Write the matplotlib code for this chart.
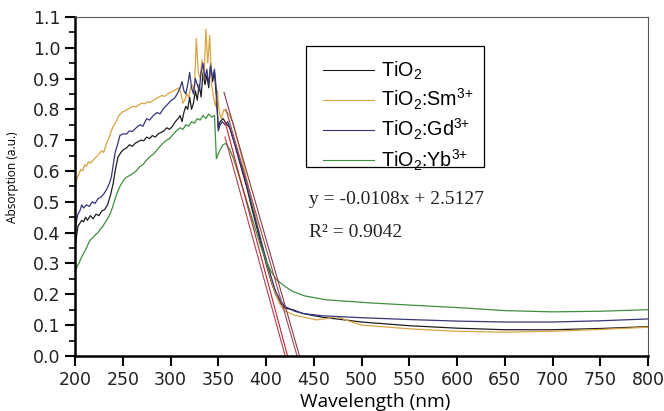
import matplotlib
matplotlib.use("Agg")
import matplotlib.pyplot as plt
from matplotlib.ticker import MultipleLocator
from matplotlib.patches import Rectangle

plt.rcParams["mathtext.fontset"] = "custom"
plt.rcParams["mathtext.rm"] = "Liberation Sans"
plt.rcParams["mathtext.it"] = "Liberation Sans"

# ---- data ----
tio2_x = [200, 201, 203, 205, 207, 209, 211, 213, 216, 219, 222, 225, 228, 231, 234, 237, 240, 242, 245, 248,
          251, 254, 257, 260, 263, 266, 269, 272, 275, 278, 281, 284, 287, 290, 293, 296, 299, 302, 305, 308,
          310, 312, 314, 316, 318, 320, 322, 324, 326, 328, 330, 332, 334, 336, 338, 340, 342, 344, 346, 348,
          350, 352, 355, 358, 362, 366, 370, 375, 380, 385, 390, 395, 400, 405, 410, 415, 420, 429, 438, 446,
          460, 474, 500, 550, 600, 650, 700, 750, 800]
tio2_y = [0.35, 0.376, 0.42, 0.43, 0.44, 0.435, 0.45, 0.44, 0.455, 0.445, 0.46, 0.455, 0.47, 0.475, 0.49, 0.52, 0.56, 0.60, 0.645, 0.66,
          0.67, 0.675, 0.685, 0.68, 0.69, 0.695, 0.70, 0.698, 0.71, 0.705, 0.715, 0.71, 0.72, 0.725, 0.73, 0.74, 0.735, 0.745, 0.76, 0.77,
          0.78, 0.76, 0.79, 0.81, 0.80, 0.84, 0.80, 0.82, 0.86, 0.83, 0.88, 0.84, 0.92, 0.88, 0.91, 0.87, 0.95, 0.89, 0.92, 0.84,
          0.74, 0.76, 0.77, 0.755, 0.74, 0.70, 0.655, 0.60, 0.545, 0.48, 0.42, 0.36, 0.30, 0.245, 0.20, 0.172, 0.155, 0.149, 0.138, 0.133,
          0.125, 0.12, 0.11, 0.098, 0.09, 0.085, 0.085, 0.089, 0.095]

sm_x = [200, 202, 204, 206, 208, 210, 212, 214, 216, 219, 222, 225, 228, 230, 233, 236, 238, 240, 243, 246,
        249, 252, 255, 258, 261, 264, 267, 270, 273, 276, 279, 282, 285, 288, 291, 294, 297, 300, 303, 306,
        309, 311, 313, 315, 317, 319, 321, 323, 325, 327, 329, 331, 333, 335, 337, 339, 341, 343, 345, 347,
        349, 351, 353, 356, 359, 362, 366, 370, 375, 380, 385, 390, 395, 400, 405, 410, 415, 420, 430, 440,
        453, 465, 474, 485, 500, 550, 600, 650, 700, 750, 800]
sm_y = [0.55, 0.575, 0.59, 0.605, 0.60, 0.62, 0.615, 0.63, 0.625, 0.635, 0.645, 0.655, 0.665, 0.66, 0.69, 0.71, 0.73, 0.745, 0.76, 0.78,
        0.79, 0.795, 0.80, 0.805, 0.81, 0.808, 0.815, 0.82, 0.818, 0.825, 0.822, 0.83, 0.835, 0.84, 0.845, 0.842, 0.85, 0.855, 0.86, 0.865,
        0.87, 0.85, 0.82, 0.83, 0.85, 0.84, 0.87, 0.88, 0.86, 1.03, 0.92, 0.90, 0.96, 0.90, 1.06, 0.95, 1.04, 0.88, 0.84, 0.81,
        0.86, 0.79, 0.77, 0.80, 0.79, 0.78, 0.75, 0.70, 0.64, 0.57, 0.505, 0.44, 0.375, 0.31, 0.25, 0.20, 0.165, 0.145, 0.132, 0.125,
        0.117, 0.122, 0.128, 0.115, 0.10, 0.088, 0.08, 0.077, 0.08, 0.086, 0.093]

gd_x = [200, 201, 203, 205, 207, 209, 212, 215, 218, 221, 224, 227, 230, 233, 236, 238, 240, 242, 244, 247,
        250, 254, 257, 260, 264, 268, 271, 275, 278, 282, 286, 289, 292, 295, 298, 301, 304, 307, 310, 312,
        314, 316, 318, 320, 322, 324, 326, 328, 330, 332, 334, 336, 338, 340, 342, 344, 346, 348, 350, 352,
        354, 357, 360, 365, 370, 375, 380, 385, 390, 395, 400, 405, 410, 415, 420, 430, 440, 460, 500, 550,
        600, 650, 700, 750, 800]
gd_y = [0.40, 0.43, 0.46, 0.47, 0.49, 0.48, 0.49, 0.485, 0.50, 0.495, 0.51, 0.515, 0.525, 0.54, 0.56, 0.58, 0.62, 0.66, 0.68, 0.715,
        0.72, 0.72, 0.73, 0.728, 0.74, 0.75, 0.745, 0.77, 0.765, 0.78, 0.79, 0.785, 0.80, 0.81, 0.82, 0.83, 0.835, 0.85, 0.87, 0.89,
        0.86, 0.85, 0.88, 0.92, 0.87, 0.85, 0.90, 0.88, 0.86, 0.92, 0.95, 0.90, 0.93, 0.88, 0.94, 0.90, 0.93, 0.86, 0.73, 0.75,
        0.76, 0.75, 0.76, 0.71, 0.66, 0.61, 0.55, 0.49, 0.43, 0.37, 0.315, 0.26, 0.21, 0.18, 0.16, 0.145, 0.137, 0.13, 0.124, 0.118,
        0.113, 0.11, 0.11, 0.114, 0.12]

yb_x = [200, 202, 204, 206, 209, 212, 214, 216, 219, 222, 224, 226, 229, 232, 235, 237, 239, 241, 244, 247,
        251, 254, 257, 261, 264, 268, 271, 275, 278, 282, 285, 289, 292, 296, 299, 303, 306, 310, 313, 316,
        319, 322, 325, 328, 331, 334, 337, 340, 343, 346, 348, 350, 352, 355, 358, 362, 366, 370, 375, 380,
        385, 390, 395, 400, 405, 411, 420, 428, 440, 463, 509, 550, 600, 650, 700, 750, 800]
yb_y = [0.27, 0.29, 0.30, 0.315, 0.333, 0.35, 0.365, 0.376, 0.385, 0.395, 0.40, 0.41, 0.42, 0.435, 0.45, 0.463, 0.48, 0.50, 0.528, 0.55,
        0.571, 0.58, 0.585, 0.593, 0.60, 0.615, 0.62, 0.636, 0.645, 0.655, 0.665, 0.68, 0.69, 0.70, 0.705, 0.72, 0.73, 0.74, 0.735, 0.75,
        0.745, 0.76, 0.755, 0.77, 0.765, 0.78, 0.77, 0.785, 0.775, 0.78, 0.64, 0.655, 0.67, 0.685, 0.69, 0.67, 0.64, 0.60, 0.55, 0.50,
        0.45, 0.40, 0.35, 0.31, 0.275, 0.247, 0.225, 0.209, 0.195, 0.182, 0.172, 0.165, 0.157, 0.147, 0.143, 0.145, 0.15]

# linear fits of the band edge: start point and x-intercept
fit_x0 = [356, 358, 357, 357]
fit_y0 = [0.855, 0.80, 0.76, 0.71]
fit_xcut = [435, 432.5, 422.5, 420]

labels = [r"TiO$_{2}$", r"TiO$_{2}$:Sm$^{3{+}}$", r"TiO$_{2}$:Gd$^{3{+}}$", r"TiO$_{2}$:Yb$^{3{+}}$"]
colors = ["#1e1e1e", "#d9a441", "#36367a", "#3f8f3f"]

fig = plt.figure(figsize=(6.64, 4.11), dpi=100)
ax = fig.add_axes([0.113, 0.134, 0.863, 0.825])

series = [(tio2_x, tio2_y), (sm_x, sm_y), (gd_x, gd_y), (yb_x, yb_y)]
for (xs, ys), c, lab in zip(series, colors, labels):
    ax.plot(xs, ys, color=c, lw=0.9, label=lab)

fit_cols = ["#8a3a48", "#9a4a55", "#c8202e", "#b04050"]
for x0, y0, xc, c in zip(fit_x0, fit_y0, fit_xcut, fit_cols):
    ax.plot([x0, xc], [y0, 0], color=c, lw=0.8)

ax.set_xlim(200, 800)
ax.set_ylim(0, 1.1)
ax.xaxis.set_major_locator(MultipleLocator(50))
ax.yaxis.set_major_locator(MultipleLocator(0.1))
ax.yaxis.set_minor_locator(MultipleLocator(0.05))
ax.yaxis.set_major_formatter(matplotlib.ticker.FormatStrFormatter("%.1f"))

for s in ["left", "bottom"]:
    ax.spines[s].set_linewidth(1.8)
    ax.spines[s].set_color("black")
for s in ["top", "right"]:
    ax.spines[s].set_linewidth(0.8)
    ax.spines[s].set_color("#555555")

ax.tick_params(axis="both", which="major", direction="out", length=7, width=1.5,
               labelsize=12.5, labelcolor="#222222", labelfontfamily="DejaVu Sans")
ax.tick_params(axis="y", which="minor", direction="out", length=4, width=1.2)
ax.tick_params(top=False, right=False)

ax.set_xlabel("Wavelength (nm)", fontsize=13.8, family="Open Sans")
ax.xaxis.set_label_coords(0.524, -0.11)
ax.set_ylabel("Absorption (a.u.)", fontsize=8.6, family="Open Sans")
ax.yaxis.set_label_coords(-0.098, 0.528)

# legend box drawn separately so the inner margins can match
ax.add_patch(Rectangle((0.4031, 0.5575), 0.3107, 0.357, transform=ax.transAxes,
                       fill=True, facecolor="white", edgecolor="black", lw=0.9, zorder=4))
leg = ax.legend(loc="upper left", bbox_to_anchor=(0.4328, 0.873), borderaxespad=0,
                frameon=False, handlelength=2.58, handletextpad=0.35,
                labelspacing=0.25, borderpad=0,
                prop={"family": "Liberation Sans", "size": 14.2})
leg.set_zorder(5)
for h in leg.get_lines():
    h.set_linewidth(0.8)

ax.text(445, 0.506, "y = -0.0108x + 2.5127", fontsize=14, family="Liberation Serif",
        va="center", color="#222222")
ax.text(445, 0.40, "R² = 0.9042", fontsize=14, family="Liberation Serif",
        va="center", color="#222222")

fig.savefig("out.png", dpi=100)
